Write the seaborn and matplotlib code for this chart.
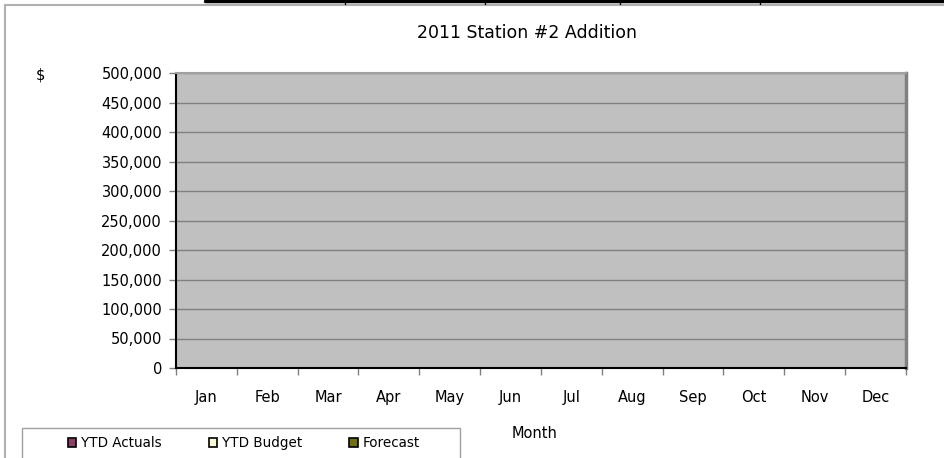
import matplotlib
matplotlib.use("Agg")
import matplotlib.pyplot as plt
from matplotlib.lines import Line2D
from matplotlib.patches import Rectangle
from matplotlib.ticker import FuncFormatter, MultipleLocator
import pandas as pd
import seaborn as sns

# Monthly figures for the project (nothing spent or budgeted yet)
months = ["Jan", "Feb", "Mar", "Apr", "May", "Jun",
          "Jul", "Aug", "Sep", "Oct", "Nov", "Dec"]
ytd_actuals = [0, 0, 0, 0, 0, 0, 0, 0, 0, 0, 0, 0]
ytd_budget = [0, 0, 0, 0, 0, 0, 0, 0, 0, 0, 0, 0]
forecast = [0, 0, 0, 0, 0, 0, 0, 0, 0, 0, 0, 0]
series_names = ["YTD Actuals", "YTD Budget", "Forecast"]
series_colors = ["#993366", "#ffffcc", "#808000"]

df = pd.DataFrame({
    "Month": months * 3,
    "Value": ytd_actuals + ytd_budget + forecast,
    "Series": [s for s in series_names for _ in months],
})

sns.set_theme(style="white")
plt.rcParams["font.family"] = ["DejaVu Sans"]
plt.rcParams["text.color"] = "black"
plt.rcParams["xtick.labelcolor"] = "black"
plt.rcParams["ytick.labelcolor"] = "black"

W, H = 945, 458
fig = plt.figure(figsize=(W / 100, H / 100), dpi=100)
ax = fig.add_axes([176 / W, 1 - 368 / H, (906 - 176) / W, (368 - 73) / H])
ax.set_facecolor("#c0c0c0")

sns.barplot(data=df, x="Month", y="Value", hue="Series",
            palette=series_colors, hue_order=series_names, order=months,
            ax=ax, linewidth=0, edgecolor="black")

handles, labels = ax.get_legend_handles_labels()
if ax.get_legend() is not None:
    ax.get_legend().remove()

ax.set_ylim(0, 500000)
ax.set_xlim(-0.5, 11.5)
ax.yaxis.set_major_locator(MultipleLocator(50000))
ax.yaxis.set_major_formatter(FuncFormatter(lambda v, p: f"{int(v):,}"))
ax.grid(axis="y", color="#808080", linewidth=1)
ax.set_axisbelow(True)

ax.set_xlabel("")
ax.set_ylabel("")
ax.tick_params(axis="y", which="major", left=True, length=5, width=1,
               color="#808080", labelsize=10.5, pad=5, labelcolor="black")
ax.tick_params(axis="x", which="major", bottom=False, labelsize=10.5, pad=10,
               labelcolor="black")
ax.set_xticks([i - 0.5 for i in range(13)], minor=True)
ax.tick_params(axis="x", which="minor", bottom=True, length=5, width=1,
               color="#808080")

for side in ["left", "bottom"]:
    ax.spines[side].set_color("black")
    ax.spines[side].set_linewidth(1.5)
ax.spines["right"].set_color("#808080")
ax.spines["right"].set_linewidth(2.5)
ax.spines["top"].set_color("#a0a0a0")
ax.spines["top"].set_linewidth(1.5)

fig.text(527 / W, 1 - 33 / H, "2011 Station #2 Addition", ha="center",
         va="center", fontsize=12.5, color="black")
fig.text(40 / W, 1 - 75 / H, "$", ha="center", va="center", fontsize=10.5,
         color="black")
fig.text(535 / W, 1 - 434 / H, "Month", ha="center", va="center",
         fontsize=10.5, color="black")

# legend box along the bottom edge
fig.add_artist(Rectangle((22 / W, -0.01), (460 - 22) / W, 0.01 + 30 / H,
                         transform=fig.transFigure, facecolor="white",
                         edgecolor="#a0a0a0", linewidth=1))
leg = fig.legend(handles, labels, ncol=3, loc="center left",
                 bbox_to_anchor=(68 / W, 1 - 443 / H),
                 frameon=False, fontsize=9.75, handlelength=0.6,
                 handleheight=0.6, handletextpad=0.35, borderaxespad=0,
                 columnspacing=3.5, borderpad=0, labelcolor="black")
for patch in leg.get_patches():
    patch.set_edgecolor("black")
    patch.set_linewidth(1.2)

# chart frame and sheet border
fig.add_artist(Line2D([5 / W, 5 / W], [0, 1 - 5 / H], color="#b0b0b0",
                      linewidth=1.5, transform=fig.transFigure))
fig.add_artist(Line2D([5 / W, 1], [1 - 5 / H, 1 - 5 / H], color="#b0b0b0",
                      linewidth=1.5, transform=fig.transFigure))
fig.add_artist(Line2D([205 / W, 1], [1 - 1 / H, 1 - 1 / H], color="black",
                      linewidth=2.5, transform=fig.transFigure))
for xp in [345, 485, 620, 760]:
    fig.add_artist(Line2D([xp / W, xp / W], [1 - 1 / H, 1 - 4 / H],
                          color="black", linewidth=1,
                          transform=fig.transFigure))

fig.savefig("out.png", dpi=100, facecolor="white")
